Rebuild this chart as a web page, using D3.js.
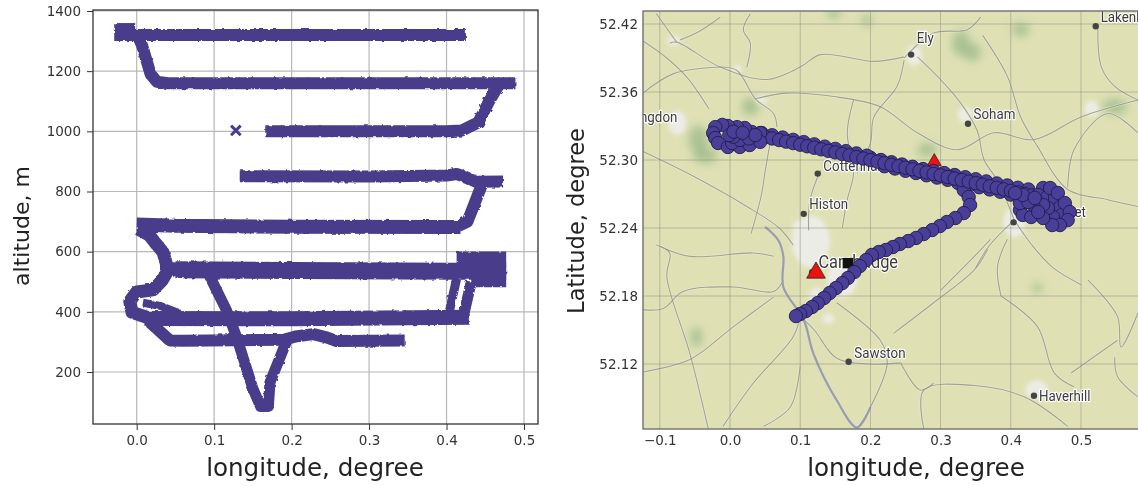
<!DOCTYPE html>
<html><head><meta charset="utf-8">
<script src="https://cdn.jsdelivr.net/npm/d3@7"></script>
<style>
html,body{margin:0;padding:0;background:#fff;overflow:hidden}
svg{display:block;filter:blur(.45px)}
text{font-family:"DejaVu Sans",sans-serif}
.maplabel{font-family:"Roboto","Noto Sans",sans-serif;font-size:15.5px;fill:#3c3c3c;stroke:#fff;stroke-width:2.4px;paint-order:stroke;stroke-linejoin:round}
</style></head><body><svg id="c" width="1138" height="486"></svg>
<script>
// ---------- left panel: altitude vs longitude ----------
const lonTicksLeft=[0,0.1,0.2,0.3,0.4,0.5];
const altTicks=[200,400,600,800,1000,1200,1400];
const legStart=[[-0.028,1322],[-0.015,1330],[-0.008,1320],[0,1320],[0.425,1320]];
const legStartLoop=[[-0.029,1330],[-0.002,1330]];
const descent1=[[0.002,1315],[0.007,1285],[0.018,1190],[0.026,1165],[0.04,1160],[0.489,1160]];
const descent2=[[0.470,1165],[0.455,1100],[0.441,1030],[0.42,1003],[0.400,1000],[0.166,1000]];
const leg850=[[0.133,851],[0.30,850],[0.40,853],[0.413,858],[0.425,848],[0.438,832],[0.473,833]];
const descent3=[[0.446,825],[0.427,700],[0.415,685]];
const leg685=[[0.0,690],[0.05,686],[0.20,683],[0.418,682]];
const join1=[[0.002,675],[0.016,655],[0.034,598],[0.04,545],[0.06,540]];
const leg540=[[0.05,540],[0.20,537],[0.41,535],[0.477,535]];
const block540a=[[0.413,572],[0.477,572]];
const block540b=[[0.432,510],[0.477,510]];
const join2=[[0.042,545],[0.033,505],[0.021,473],[0.0,466],[-0.009,435],[-0.006,398],[0.013,382],[0.05,377]];
const leg377=[[0.01,378],[0.2,377],[0.43,382]];
const upperBranch=[[0.008,430],[0.03,420],[0.055,395]];
const climbA=[[0.404,405],[0.413,510]];
const climbB=[[0.423,400],[0.432,500]];
const lower=[[0.017,365],[0.043,305],[0.06,304],[0.19,307],[0.205,318],[0.228,326],[0.245,315],[0.258,303],[0.346,305]];
const dive=[[0.092,530],[0.116,405],[0.129,316],[0.15,145],[0.16,85],[0.17,85],[0.172,165],[0.194,306]];
const strayMarks=[[0.128,1003]];

// ---------- right panel: map ----------
const lonTicksRight=[-0.1,0,0.1,0.2,0.3,0.4,0.5];
const latTicks=[52.12,52.18,52.24,52.30,52.36,52.42];
const roads=[
[[-0.129,52.309],[-0.05,52.285],[0.024,52.259],[0.07,52.24],[0.09,52.225]],
[[0.267,52.391],[0.30,52.371],[0.329,52.35],[0.352,52.326],[0.362,52.30],[0.381,52.282],[0.405,52.247]],
[[0.248,52.391],[0.205,52.387],[0.129,52.393],[0.10,52.382],[0.052,52.371],[-0.014,52.382],[-0.076,52.404],[-0.086,52.403]],
[[-0.076,52.404],[-0.105,52.429]],
[[-0.014,52.382],[0.01,52.379],[0.036,52.354],[0.062,52.341],[0.067,52.329]],
[[-0.124,52.359],[-0.081,52.376],[-0.014,52.382]],
[[0.036,52.354],[0.081,52.359],[0.148,52.356],[0.214,52.347],[0.267,52.324],[0.324,52.309],[0.376,52.324],[0.433,52.318],[0.5,52.338],[0.581,52.353]],
[[0.248,52.388],[0.238,52.365],[0.205,52.338],[0.2,52.315],[0.181,52.288]],
[[0.176,52.353],[0.167,52.324],[0.176,52.288],[0.167,52.265],[0.16,52.24]],
[[0.129,52.291],[0.114,52.265],[0.112,52.238]],
[[0.524,52.418],[0.529,52.382],[0.548,52.365],[0.581,52.353]],
[[0.36,52.41],[0.395,52.374],[0.414,52.338],[0.438,52.312],[0.481,52.274],[0.538,52.265],[0.581,52.259]],
[[0.581,52.324],[0.538,52.341],[0.49,52.309],[0.481,52.276]],
[[0.029,52.429],[0.019,52.415],[0.029,52.403],[0.024,52.382]],
[[-0.014,52.426],[-0.048,52.412],[-0.071,52.406]],
[[0.357,52.426],[0.338,52.415],[0.29,52.412],[0.248,52.39]],
[[-0.105,52.225],[-0.086,52.218],[-0.09,52.197],[-0.057,52.129],[-0.031,52.063]],
[[-0.124,52.168],[-0.095,52.169],[-0.067,52.184],[0.005,52.188],[0.062,52.184],[0.076,52.194]],
[[-0.124,52.113],[-0.057,52.124],[0.005,52.153],[0.062,52.179]],
[[-0.01,52.065],[0.033,52.103],[0.09,52.144],[0.1,52.162]],
[[0.048,52.065],[0.086,52.082],[0.1,52.118]],
[[0.152,52.174],[0.214,52.141],[0.224,52.121],[0.195,52.076],[0.181,52.063]],
[[0.233,52.147],[0.29,52.174],[0.348,52.203],[0.367,52.221]],
[[0.386,52.18],[0.381,52.206],[0.395,52.23]],
[[0.386,52.18],[0.438,52.153],[0.462,52.112],[0.49,52.1]],
[[0.276,52.063],[0.276,52.097],[0.348,52.101],[0.419,52.091],[0.481,52.065]],
[[0.243,52.121],[0.271,52.097],[0.29,52.103]],
[[0.51,52.194],[0.552,52.162],[0.557,52.135],[0.581,52.165]],
[[0.552,52.141],[0.486,52.112]],
[[0.581,52.091],[0.552,52.109],[0.548,52.126]],
[[0.062,52.215],[0.033,52.218],[-0.057,52.215],[-0.1,52.224]],
[[0.371,52.23],[0.348,52.215],[0.3,52.185]],
[[0.1,52.162],[0.12,52.15],[0.152,52.125],[0.2,52.12],[0.243,52.121]],
[[0.405,52.247],[0.43,52.225],[0.46,52.205],[0.50,52.19]],
[[0.405,52.247],[0.37,52.225],[0.35,52.205]],
[[-0.124,52.405],[-0.09,52.39],[-0.06,52.372],[-0.03,52.345]],
[[0.06,52.325],[0.05,52.29],[0.045,52.27],[0.03,52.235]]
];
const river=[[0.05,52.241],[0.069,52.229],[0.076,52.215],[0.076,52.188],[0.105,52.159],[0.119,52.129],[0.152,52.088],[0.181,52.064],[0.2,52.082]];
const greens=[[-0.045,52.318],[-0.035,52.304],[0.029,52.347],[0.281,52.309],[0.329,52.403],[0.345,52.395],[0.414,52.415],[0.548,52.347],[-0.048,52.144],[0.438,52.187],[0.148,52.429],[0.195,52.423]];
const greenSizes=[[10,14],[12,8],[9,9],[10,7],[9,13],[9,9],[9,7],[12,8],[6,10],[5,5],[7,5],[5,6]];
const towns=[[0.262,52.392],[0.115,52.228],[0.16,52.195],[0.405,52.245],[0.437,52.097],[-0.075,52.3326],[0.1,52.24],[0.335,52.34],[0.515,52.345],[0.125,52.18],[-0.08,52.405],[0.01,52.38],[0.045,52.353],[0.14,52.16]];
const townSizes=[[8,10],[19,26],[15,18],[11,15],[11,10],[9,12],[8,8],[7,8],[7,8],[9,8],[7,5],[5,4],[6,4],[6,5]];
const placeNames=["Huntingdon","Ely","Lakenheath","Soham","Cottenham","Histon","Newmarket","Cambridge","Sawston","Haverhill"];
const placeDots=[[0.258,52.393],[0.521,52.418],[0.339,52.332],[0.125,52.288],[0.105,52.2525],[0.404,52.245],[0.117,52.201],[0.169,52.122],[0.433,52.092]];
const labelAnchors=[[-0.075,52.338],[0.266,52.4075],[0.528,52.426],[0.347,52.341],[0.133,52.295],[0.113,52.261],[0.41,52.254],[0.126,52.2095],[0.177,52.130],[0.44,52.092]];
const homeSquare=[[0.168,52.209]];
const bigTriangle=[[0.1225,52.2005]];
const smallTriangle=[[0.291,52.2985]];
const passWest=[[0.04,52.3217],[0.05,52.3203],[0.06,52.3190],[0.07,52.3176],[0.08,52.3162],[0.09,52.3149],[0.10,52.3135],[0.11,52.3121],[0.12,52.3108],[0.13,52.3094],[0.14,52.3081],[0.15,52.3067],[0.16,52.3053],[0.17,52.3040],[0.18,52.3026],[0.19,52.3013],[0.20,52.2999],[0.21,52.2985],[0.22,52.2972],[0.23,52.2958],[0.24,52.2945],[0.25,52.2932],[0.26,52.2918],[0.27,52.2904],[0.28,52.2891],[0.29,52.2877],[0.30,52.2864],[0.31,52.2850],[0.32,52.2836],[0.33,52.2823],[0.34,52.2809],[0.35,52.2796],[0.36,52.2782],[0.37,52.2768],[0.38,52.2755],[0.39,52.2741],[0.40,52.2728],[0.41,52.2714],[0.42,52.2701],[0.43,52.2687],[0.44,52.2673]];
const passWestHigh=[[0.045,52.3238],[0.06,52.3218],[0.075,52.3198],[0.09,52.3178],[0.105,52.3158],[0.12,52.3138],[0.135,52.3118],[0.15,52.3098],[0.165,52.3078],[0.18,52.3058],[0.195,52.3038]];
const passUpper=[[0.20,52.3020],[0.215,52.3000],[0.23,52.2980],[0.245,52.2960],[0.26,52.2940],[0.275,52.2920],[0.29,52.2902],[0.305,52.2885],[0.32,52.2867],[0.335,52.2848],[0.35,52.2830],[0.365,52.2811],[0.38,52.2793],[0.395,52.2775],[0.41,52.2755],[0.425,52.2740]];
const passLower=[[0.22,52.2945],[0.235,52.2925],[0.25,52.2905],[0.265,52.2885],[0.28,52.2865],[0.295,52.2845],[0.31,52.2825],[0.325,52.2805],[0.34,52.2780],[0.355,52.2760],[0.37,52.2740],[0.385,52.2720],[0.40,52.2695],[0.415,52.2675],[0.43,52.2650]];
const loopWest=[[0.043,52.3238],[0.031,52.3247],[0.021,52.3282],[0.01,52.3290],[-0.003,52.3300],[-0.011,52.3310],[-0.021,52.3290],[-0.024,52.3238],[-0.021,52.3194],[-0.017,52.3150],[-0.003,52.3115],[0.014,52.3115],[0.028,52.3132],[0.043,52.3160],[0.003,52.3150],[0.014,52.3177],[0.027,52.3190],[0.036,52.3220],[0.005,52.3205],[-0.001,52.3220],[0.005,52.3250],[0.018,52.3240]];
const loopEast=[[0.456,52.2753],[0.467,52.2709],[0.477,52.2620],[0.484,52.2541],[0.481,52.2470],[0.470,52.2426],[0.459,52.2426],[0.446,52.2488],[0.439,52.2541]];
const loopEastInner=[[0.446,52.2753],[0.439,52.2691],[0.452,52.2673],[0.463,52.2665],[0.470,52.2585],[0.473,52.2515],[0.460,52.2497],[0.453,52.2576],[0.446,52.2603],[0.432,52.2603],[0.425,52.2629],[0.417,52.2691],[0.406,52.2709],[0.434,52.2665]];
const loopEastLower=[[0.413,52.2559],[0.417,52.2515],[0.429,52.2497],[0.413,52.2620]];
const spur=[[0.313,52.2850],[0.325,52.2797],[0.333,52.2735],[0.340,52.2673],[0.342,52.2603],[0.333,52.2532],[0.321,52.2488],[0.309,52.2453],[0.299,52.2417],[0.288,52.2382],[0.276,52.2347],[0.265,52.2312],[0.254,52.2285],[0.242,52.2259],[0.232,52.2232],[0.222,52.2206],[0.212,52.2188],[0.202,52.2162],[0.194,52.2117],[0.185,52.2064],[0.177,52.2011],[0.168,52.1959],[0.160,52.1914],[0.151,52.1870],[0.142,52.1826],[0.134,52.1782],[0.125,52.1738],[0.117,52.1703],[0.108,52.1667],[0.100,52.1641],[0.094,52.1623]];

const axisX="longitude, degree", axisAlt="altitude, m", axisLat="Latitude, degree";
const violet="#483d8b";

const svg=d3.select("#c");
const defs=svg.append("defs");
const rough=defs.append("filter").attr("id","rough").attr("x","-5%").attr("y","-5%").attr("width","110%").attr("height","110%");
rough.append("feTurbulence").attr("type","fractalNoise").attr("baseFrequency",0.22).attr("numOctaves",2).attr("seed",4);
rough.append("feDisplacementMap").attr("in","SourceGraphic").attr("scale",3);
function blurDef(id,sd){const f=defs.append("filter").attr("id",id).attr("x","-100%").attr("y","-100%").attr("width","300%").attr("height","300%");f.append("feGaussianBlur").attr("stdDeviation",sd);}
blurDef("soft",0.6);blurDef("soft2",2.2);blurDef("soft6",4);

function axesBox(x0,x1,y0,y1){return {x0,x1,y0,y1,w:x1-x0,h:y1-y0};}
function styleAxis(g){g.selectAll("text").attr("fill","#333").style("font-size","13.5px");g.selectAll(".tick line").attr("stroke","#333");g.select(".domain").remove();}

// LEFT
const L=axesBox(93,538,10,424);
const xL=d3.scaleLinear().domain([0,0.5]).range([136.7,524]);
const yL=d3.scaleLinear().domain([200,1400]).range([372,11]);
const gL=svg.append("g");
gL.append("g").selectAll("line").data(lonTicksLeft).join("line").attr("x1",d=>xL(d)).attr("x2",d=>xL(d)).attr("y1",L.y0).attr("y2",L.y1).attr("stroke","#b8b8b8").attr("stroke-width",1.2);
gL.append("g").selectAll("line").data(altTicks).join("line").attr("x1",L.x0).attr("x2",L.x1).attr("y1",d=>yL(d)).attr("y2",d=>yL(d)).attr("stroke","#b8b8b8").attr("stroke-width",1.2);
const lineL=d3.line().x(d=>xL(d[0])).y(d=>yL(d[1])).curve(d3.curveLinear);
const legs=[[legStart,12],[legStartLoop,18],[descent1,12],[descent2,12],[leg850,12],[descent3,12],[leg685,14],[join1,13],[leg540,17],[block540a,17],[block540b,17],[join2,13],[leg377,15],[upperBranch,8],[climbA,9],[climbB,11],[lower,12],[dive,11]];
const tg=gL.append("g").attr("filter","url(#rough)");
tg.selectAll("path").data(legs).join("path").attr("d",d=>lineL(d[0])).attr("fill","none").attr("stroke",violet).attr("stroke-width",d=>d[1]).attr("stroke-linejoin","round");
gL.selectAll(".stray").data(strayMarks).join("path").attr("class","stray").attr("d",d3.symbol(d3.symbolX,62)).attr("transform",d=>`translate(${xL(d[0])},${yL(d[1])})`).attr("fill","none").attr("stroke",violet).attr("stroke-width",3);
gL.append("rect").attr("x",L.x0).attr("y",L.y0).attr("width",L.w).attr("height",L.h).attr("fill","none").attr("stroke","#333").attr("stroke-width",1.3);
gL.append("g").attr("transform",`translate(0,${L.y1})`).call(d3.axisBottom(xL).tickValues(lonTicksLeft).tickFormat(d3.format(".1f")).tickSize(6).tickPadding(5)).call(styleAxis);
gL.append("g").attr("transform",`translate(${L.x0},0)`).call(d3.axisLeft(yL).tickValues(altTicks).tickSize(6).tickPadding(6).tickFormat(d3.format("d"))).call(styleAxis);
gL.append("text").attr("x",315).attr("y",476).attr("text-anchor","middle").attr("font-size",24.6).attr("fill","#222").text(axisX);
gL.append("text").attr("transform","translate(29,226) rotate(-90)").attr("text-anchor","middle").attr("font-size",22).attr("fill","#222").text(axisAlt);

// RIGHT
const R=axesBox(643,1138,11,429);
const xR=d3.scaleLinear().domain([0,0.5]).range([730,1081]);
const yR=d3.scaleLinear().domain([52.12,52.42]).range([364,24]);
defs.append("clipPath").attr("id","mapclip").append("rect").attr("x",R.x0).attr("y",R.y0).attr("width",R.w).attr("height",R.h);
const gR=svg.append("g");
const mapG=gR.append("g").attr("clip-path","url(#mapclip)");
mapG.append("rect").attr("x",R.x0).attr("y",R.y0).attr("width",R.w).attr("height",R.h).attr("fill","#dfe1b5");
const blurG=mapG.append("g").attr("filter","url(#soft6)");
blurG.selectAll(".g").data(greens).join("ellipse").attr("class","g").attr("cx",d=>xR(d[0])).attr("cy",d=>yR(d[1])).attr("rx",(d,i)=>greenSizes[i][0]).attr("ry",(d,i)=>greenSizes[i][1]).attr("fill","#9fbc8c").attr("opacity",.8);
const townG=mapG.append("g").attr("filter","url(#soft2)");
townG.selectAll("ellipse").data(towns).join("ellipse").attr("cx",d=>xR(d[0])).attr("cy",d=>yR(d[1])).attr("rx",(d,i)=>townSizes[i][0]).attr("ry",(d,i)=>townSizes[i][1]).attr("fill","#ecece6");
const lineR=d3.line().x(d=>xR(d[0])).y(d=>yR(d[1])).curve(d3.curveCatmullRom.alpha(.5));
const roadG=mapG.append("g").attr("filter","url(#soft)");
roadG.append("g").selectAll("path").data(roads).join("path").attr("d",lineR).attr("fill","none").attr("stroke","#eeeeda").attr("stroke-width",2.6).attr("opacity",.55);
roadG.append("g").selectAll("path").data(roads).join("path").attr("d",lineR).attr("fill","none").attr("stroke","#8e9182").attr("stroke-width",1.1).attr("opacity",.8);
roadG.append("path").attr("d",lineR(river)).attr("fill","none").attr("stroke","#9a9cb4").attr("stroke-width",2.2);
// graticule
mapG.append("g").selectAll("line").data(lonTicksRight).join("line").attr("x1",d=>xR(d)).attr("x2",d=>xR(d)).attr("y1",R.y0).attr("y2",R.y1).attr("stroke","#85887c").attr("stroke-width",.8).attr("opacity",.6);
mapG.append("g").selectAll("line").data(latTicks).join("line").attr("x1",R.x0).attr("x2",R.x1).attr("y1",d=>yR(d)).attr("y2",d=>yR(d)).attr("stroke","#85887c").attr("stroke-width",.8).attr("opacity",.6);
// places
mapG.append("g").selectAll("text").data(placeNames).join("text").attr("class","maplabel").attr("text-anchor",(d,i)=>i==0?"end":"start").attr("x",(d,i)=>xR(labelAnchors[i][0])).attr("y",(d,i)=>yR(labelAnchors[i][1])+5).style("font-size",d=>d=="Cambridge"?"19px":null).text(d=>d)
 .each(function(){const n=this.getComputedTextLength();d3.select(this).attr("textLength",n*0.86).attr("lengthAdjust","spacingAndGlyphs");});
mapG.append("g").selectAll("circle").data(placeDots).join("circle").attr("cx",d=>xR(d[0])).attr("cy",d=>yR(d[1])).attr("r",3.2).attr("fill","#444");
// markers
const tri=d3.symbol(d3.symbolTriangle);
mapG.selectAll(".sq").data(homeSquare).join("path").attr("class","sq").attr("d",d3.symbol(d3.symbolSquare,110)).attr("transform",d=>`translate(${xR(d[0])},${yR(d[1])})`).attr("fill","#111");
mapG.selectAll(".t2").data(smallTriangle).join("path").attr("class","t2").attr("d",tri.size(85)).attr("transform",d=>`translate(${xR(d[0])},${yR(d[1])})`).attr("fill","#ee1111").attr("stroke","#222").attr("stroke-width",.8);
const allPasses=[passUpper,passLower,loopEastLower,spur,passWestHigh,passWest,loopEastInner,loopWest,loopEast];
mapG.append("g").selectAll("g").data(allPasses).join("g").selectAll("circle").data(d=>d).join("circle").attr("cx",d=>xR(d[0])).attr("cy",d=>yR(d[1])).attr("r",6.7).attr("fill","#4a3f98").attr("stroke","#221c4a").attr("stroke-width",.9);
mapG.selectAll(".t1").data(bigTriangle).join("path").attr("class","t1").attr("d",tri.size(150)).attr("transform",d=>`translate(${xR(d[0])},${yR(d[1])})`).attr("fill","#ee1111").attr("stroke","#222").attr("stroke-width",.8);
gR.append("rect").attr("x",R.x0).attr("y",R.y0).attr("width",R.w+2).attr("height",R.h).attr("fill","none").attr("stroke","#666").attr("stroke-width",1.3);
gR.append("g").attr("transform",`translate(0,${R.y1})`).call(d3.axisBottom(xR).tickValues(lonTicksRight).tickFormat(d3.format(".1f")).tickSize(0).tickPadding(6)).call(styleAxis);
gR.append("g").attr("transform",`translate(${R.x0},0)`).call(d3.axisLeft(yR).tickValues(latTicks).tickFormat(d3.format(".2f")).tickSize(0).tickPadding(5)).call(styleAxis);
gR.append("text").attr("x",916).attr("y",476).attr("text-anchor","middle").attr("font-size",24.6).attr("fill","#222").text(axisX);
gR.append("text").attr("transform","translate(584,221) rotate(-90)").attr("text-anchor","middle").attr("font-size",22.5).attr("fill","#222").text(axisLat);
</script></body></html>
